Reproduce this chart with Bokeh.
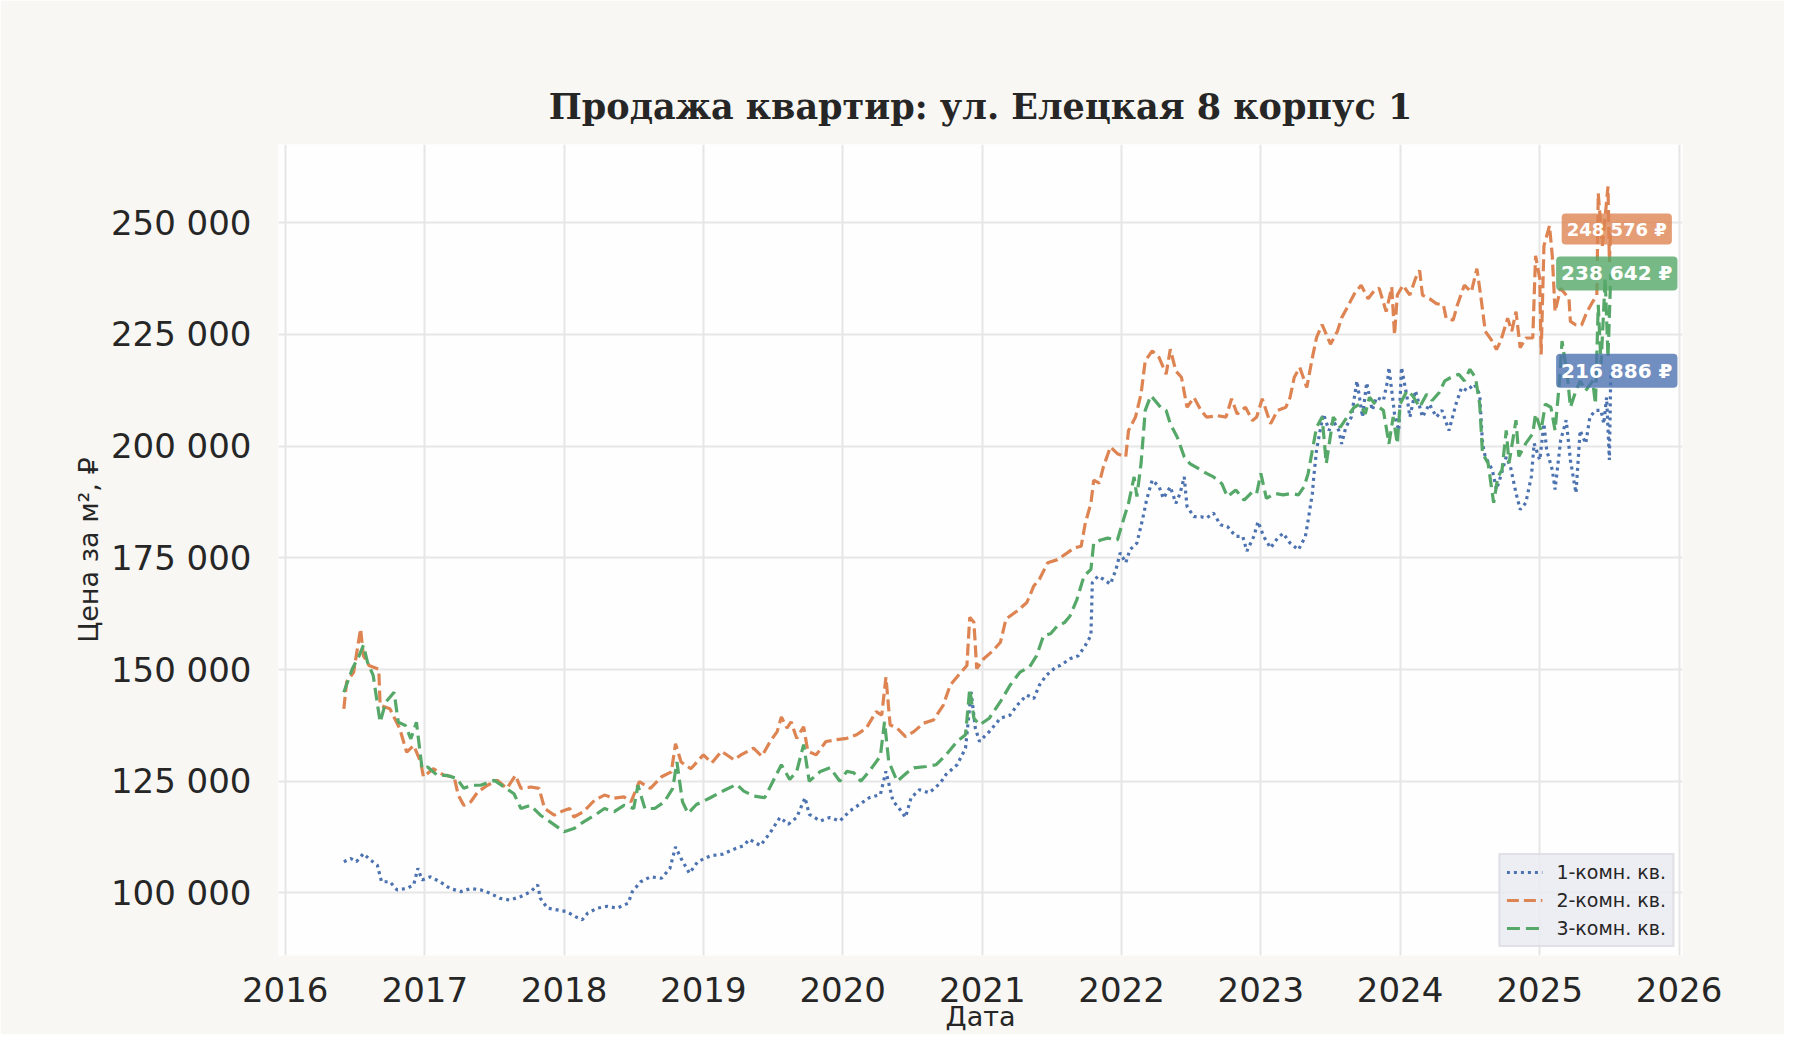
import numpy as np
import pandas as pd
from bokeh.plotting import figure
from bokeh.models import Range1d, FixedTicker, DatetimeTickFormatter, CustomJSTickFormatter, Label
from bokeh.embed import file_html
from bokeh.resources import INLINE

# fractional years and price per m2 (thousand rub)
years_1k = [2016.42, 2016.47, 2016.51, 2016.56, 2016.61, 2016.66, 2016.69, 2016.75, 2016.80, 2016.87,
            2016.92, 2016.95, 2016.98, 2017.04, 2017.11, 2017.18, 2017.26, 2017.33, 2017.40, 2017.47,
            2017.54, 2017.61, 2017.69, 2017.76, 2017.81, 2017.83, 2017.88, 2017.95, 2018.02, 2018.08,
            2018.13, 2018.17, 2018.24, 2018.31, 2018.38, 2018.46, 2018.49, 2018.55, 2018.62, 2018.70,
            2018.76, 2018.80, 2018.84, 2018.90, 2018.96, 2019.05, 2019.14, 2019.22, 2019.29, 2019.33,
            2019.41, 2019.48, 2019.55, 2019.61, 2019.67, 2019.73, 2019.76, 2019.84, 2019.91, 2019.98,
            2020.05, 2020.12, 2020.19, 2020.27, 2020.31, 2020.36, 2020.41, 2020.45, 2020.49, 2020.55,
            2020.62, 2020.70, 2020.74, 2020.82, 2020.88, 2020.92, 2020.95, 2020.98, 2021.05, 2021.13,
            2021.20, 2021.25, 2021.32, 2021.37, 2021.41, 2021.46, 2021.53, 2021.56, 2021.63, 2021.69,
            2021.74, 2021.78, 2021.79, 2021.83, 2021.87, 2021.92, 2021.96, 2021.99, 2022.03, 2022.06,
            2022.11, 2022.15, 2022.18, 2022.22, 2022.27, 2022.30, 2022.35, 2022.39, 2022.42, 2022.45,
            2022.47, 2022.52, 2022.57, 2022.61, 2022.66, 2022.71, 2022.76, 2022.82, 2022.87, 2022.90,
            2022.95, 2022.98, 2023.02, 2023.07, 2023.12, 2023.16, 2023.21, 2023.27, 2023.32, 2023.34,
            2023.37, 2023.38, 2023.40, 2023.43, 2023.45, 2023.49, 2023.52, 2023.56, 2023.58, 2023.61,
            2023.65, 2023.69, 2023.73, 2023.76, 2023.80, 2023.83, 2023.88, 2023.91, 2023.92, 2023.96,
            2023.99, 2024.01, 2024.05, 2024.07, 2024.11, 2024.16, 2024.21, 2024.26, 2024.30, 2024.35,
            2024.40, 2024.44, 2024.48, 2024.53, 2024.57, 2024.59, 2024.61, 2024.66, 2024.69, 2024.72,
            2024.76, 2024.79, 2024.83, 2024.86, 2024.90, 2024.94, 2024.96, 2025.00, 2025.03, 2025.05,
            2025.09, 2025.11, 2025.15, 2025.19, 2025.22, 2025.26, 2025.29, 2025.33, 2025.36, 2025.40,
            2025.44, 2025.46, 2025.48, 2025.50, 2025.51]
price_1k = [107.0, 107.7, 107.0, 108.8, 107.4, 106.2, 102.5, 102.5, 100.7, 101.0,
            101.8, 105.5, 102.9, 103.6, 102.5, 101.0, 100.3, 101.0, 100.7, 99.9,
            98.8, 98.4, 99.2, 100.3, 101.8, 98.8, 96.6, 96.2, 95.8, 94.7,
            94.0, 95.5, 96.6, 97.0, 96.6, 97.7, 100.3, 102.5, 103.6, 103.3,
            105.5, 110.3, 107.7, 104.4, 107.0, 108.3, 108.7, 109.8, 110.6, 112.0,
            110.6, 113.5, 116.9, 115.4, 116.9, 121.3, 117.6, 116.1, 116.9, 116.1,
            118.3, 119.8, 121.3, 122.0, 127.2, 120.6, 118.7, 116.9, 121.3, 123.1,
            122.4, 124.6, 126.5, 128.7, 132.4, 145.0, 136.9, 133.9, 136.1, 139.1,
            139.8, 142.0, 144.3, 143.5, 146.5, 148.7, 150.6, 150.9, 152.4, 153.1,
            155.4, 157.6, 169.4, 170.9, 170.2, 169.1, 172.4, 176.1, 173.9, 176.8,
            178.3, 183.5, 188.0, 192.4, 190.9, 188.3, 190.9, 187.2, 189.4, 193.1,
            186.5, 184.2, 184.2, 183.9, 185.0, 182.4, 182.0, 179.8, 179.8, 176.5,
            179.8, 183.1, 179.8, 177.2, 179.4, 180.5, 178.3, 176.8, 179.8, 183.5,
            189.4, 193.1, 199.1, 204.2, 207.2, 203.5, 205.7, 203.5, 200.5, 204.2,
            206.5, 214.6, 206.5, 214.2, 208.0, 210.9, 210.2, 214.6, 217.6, 207.2,
            203.5, 217.6, 210.9, 206.5, 212.4, 206.5, 209.4, 206.5, 208.0, 203.5,
            209.4, 213.1, 212.4, 213.9, 211.6, 200.6, 197.6, 194.7, 190.3, 193.2,
            197.6, 195.4, 189.5, 185.8, 187.3, 193.2, 200.6, 196.9, 205.0, 199.1,
            194.7, 190.3, 201.3, 205.8, 196.9, 189.5, 203.5, 200.6, 206.5, 208.0,
            208.0, 205.0, 210.9, 196.9, 216.886]

years_2k = [2016.42, 2016.44, 2016.49, 2016.54, 2016.56, 2016.60, 2016.67, 2016.68, 2016.75, 2016.82,
            2016.87, 2016.92, 2016.97, 2016.99, 2017.06, 2017.14, 2017.21, 2017.24, 2017.28, 2017.33,
            2017.38, 2017.45, 2017.52, 2017.59, 2017.65, 2017.69, 2017.76, 2017.82, 2017.86, 2017.93,
            2017.98, 2018.04, 2018.07, 2018.14, 2018.22, 2018.29, 2018.36, 2018.43, 2018.48, 2018.54,
            2018.62, 2018.70, 2018.77, 2018.80, 2018.84, 2018.91, 2019.00, 2019.06, 2019.13, 2019.22,
            2019.27, 2019.36, 2019.42, 2019.48, 2019.53, 2019.56, 2019.60, 2019.63, 2019.67, 2019.72,
            2019.75, 2019.81, 2019.88, 2019.96, 2020.03, 2020.10, 2020.17, 2020.24, 2020.28, 2020.31,
            2020.34, 2020.39, 2020.45, 2020.51, 2020.58, 2020.65, 2020.72, 2020.77, 2020.84, 2020.89,
            2020.91, 2020.94, 2020.96, 2021.01, 2021.08, 2021.13, 2021.17, 2021.25, 2021.32, 2021.37,
            2021.41, 2021.47, 2021.54, 2021.61, 2021.66, 2021.71, 2021.74, 2021.78, 2021.80, 2021.84,
            2021.87, 2021.92, 2021.97, 2022.03, 2022.05, 2022.10, 2022.14, 2022.17, 2022.22, 2022.27,
            2022.32, 2022.35, 2022.39, 2022.43, 2022.47, 2022.52, 2022.57, 2022.61, 2022.69, 2022.75,
            2022.79, 2022.83, 2022.89, 2022.94, 2022.97, 2023.01, 2023.07, 2023.12, 2023.18, 2023.21,
            2023.24, 2023.28, 2023.33, 2023.37, 2023.40, 2023.44, 2023.50, 2023.55, 2023.58, 2023.62,
            2023.67, 2023.72, 2023.77, 2023.82, 2023.85, 2023.90, 2023.94, 2023.96, 2023.98, 2024.02,
            2024.07, 2024.11, 2024.14, 2024.16, 2024.21, 2024.26, 2024.31, 2024.33, 2024.38, 2024.41,
            2024.46, 2024.51, 2024.55, 2024.58, 2024.61, 2024.66, 2024.69, 2024.72, 2024.77, 2024.80,
            2024.83, 2024.86, 2024.90, 2024.95, 2024.97, 2025.00, 2025.01, 2025.03, 2025.07, 2025.09,
            2025.11, 2025.15, 2025.21, 2025.22, 2025.26, 2025.30, 2025.34, 2025.38, 2025.41, 2025.42,
            2025.45, 2025.49, 2025.50, 2025.51]
price_2k = [141.2, 147.2, 149.4, 159.1, 153.1, 150.9, 150.1, 142.0, 141.2, 136.8,
            131.5, 133.0, 129.3, 126.0, 127.8, 126.3, 126.0, 121.9, 119.6, 120.4,
            122.6, 124.1, 125.2, 123.4, 126.3, 123.4, 123.7, 123.4, 118.9, 117.4,
            118.2, 118.9, 117.0, 118.2, 120.8, 121.9, 121.2, 121.5, 120.4, 124.9,
            123.4, 126.0, 127.1, 133.4, 129.3, 127.8, 130.9, 129.1, 131.7, 129.8,
            130.9, 132.4, 130.6, 133.9, 136.1, 139.4, 136.9, 138.3, 134.6, 137.2,
            131.7, 130.9, 133.9, 134.3, 134.6, 135.4, 136.9, 140.6, 139.8, 148.3,
            137.6, 136.9, 135.0, 136.1, 138.0, 138.7, 142.0, 146.5, 149.1, 150.9,
            161.7, 160.6, 150.2, 152.4, 154.3, 156.1, 161.3, 163.1, 165.0, 168.7,
            170.2, 173.9, 174.6, 176.1, 177.2, 177.6, 182.8, 187.2, 192.4, 191.7,
            195.4, 199.8, 198.3, 197.6, 203.5, 206.5, 211.7, 219.1, 221.3, 219.8,
            216.1, 221.7, 216.8, 215.4, 208.7, 210.9, 208.0, 206.5, 206.8, 206.5,
            210.6, 207.2, 208.7, 205.7, 206.5, 210.6, 205.0, 208.0, 208.7, 210.9,
            215.4, 217.6, 213.1, 219.8, 224.3, 227.2, 222.8, 225.7, 228.7, 231.0,
            234.0, 236.0, 233.0, 235.0, 235.3, 230.1, 235.6, 224.9, 233.8, 236.0,
            233.8, 237.5, 239.3, 233.8, 233.0, 231.9, 231.6, 228.6, 228.2, 231.6,
            236.0, 234.5, 239.7, 233.0, 225.7, 223.5, 221.6, 223.5, 228.6, 225.7,
            230.1, 222.0, 224.2, 224.2, 242.6, 237.5, 220.5, 244.8, 249.3, 242.6,
            230.1, 235.3, 233.0, 227.9, 227.1, 227.1, 230.1, 232.3, 233.8, 256.6,
            244.8, 258.1, 241.2, 248.576]

years_3k = [2016.42, 2016.48, 2016.53, 2016.56, 2016.59, 2016.63, 2016.68, 2016.72, 2016.78, 2016.81,
            2016.86, 2016.90, 2016.94, 2016.98, 2017.02, 2017.09, 2017.16, 2017.23, 2017.28, 2017.33,
            2017.40, 2017.50, 2017.57, 2017.64, 2017.69, 2017.76, 2017.83, 2017.90, 2018.00, 2018.07,
            2018.14, 2018.22, 2018.29, 2018.36, 2018.43, 2018.50, 2018.53, 2018.58, 2018.65, 2018.72,
            2018.78, 2018.81, 2018.85, 2018.89, 2018.95, 2019.05, 2019.14, 2019.24, 2019.29, 2019.36,
            2019.44, 2019.50, 2019.56, 2019.62, 2019.67, 2019.72, 2019.76, 2019.84, 2019.91, 2019.98,
            2020.03, 2020.08, 2020.13, 2020.19, 2020.27, 2020.30, 2020.33, 2020.39, 2020.46, 2020.51,
            2020.60, 2020.67, 2020.74, 2020.82, 2020.88, 2020.91, 2020.94, 2020.98, 2021.05, 2021.13,
            2021.20, 2021.27, 2021.34, 2021.39, 2021.44, 2021.49, 2021.54, 2021.59, 2021.63, 2021.68,
            2021.73, 2021.78, 2021.80, 2021.85, 2021.90, 2021.97, 2022.02, 2022.05, 2022.09, 2022.11,
            2022.14, 2022.17, 2022.21, 2022.24, 2022.28, 2022.32, 2022.35, 2022.40, 2022.45, 2022.49,
            2022.55, 2022.61, 2022.66, 2022.72, 2022.76, 2022.82, 2022.88, 2022.94, 2022.97, 2023.00,
            2023.04, 2023.10, 2023.16, 2023.22, 2023.27, 2023.31, 2023.34, 2023.37, 2023.40, 2023.44,
            2023.47, 2023.52, 2023.57, 2023.62, 2023.67, 2023.71, 2023.75, 2023.78, 2023.83, 2023.88,
            2023.92, 2023.95, 2023.98, 2024.00, 2024.05, 2024.09, 2024.14, 2024.19, 2024.23, 2024.28,
            2024.32, 2024.36, 2024.42, 2024.46, 2024.50, 2024.54, 2024.57, 2024.59, 2024.63, 2024.65,
            2024.67, 2024.70, 2024.73, 2024.76, 2024.78, 2024.83, 2024.85, 2024.90, 2024.95, 2024.97,
            2025.01, 2025.04, 2025.08, 2025.11, 2025.14, 2025.16, 2025.20, 2025.22, 2025.26, 2025.29,
            2025.33, 2025.38, 2025.40, 2025.42, 2025.44, 2025.47, 2025.49, 2025.51]
price_3k = [144.9, 150.1, 153.1, 155.4, 151.6, 148.7, 138.2, 142.7, 144.9, 138.2,
            137.5, 134.5, 138.2, 127.8, 128.2, 126.3, 126.3, 125.6, 123.4, 124.1,
            124.1, 125.2, 123.7, 122.2, 118.9, 119.6, 117.4, 115.9, 113.7, 114.4,
            115.9, 117.4, 118.9, 118.2, 119.6, 118.9, 124.1, 118.9, 118.9, 120.4,
            123.4, 129.3, 120.4, 117.8, 119.8, 121.3, 122.8, 124.3, 122.8, 121.7,
            121.3, 125.0, 128.7, 125.4, 127.2, 133.2, 125.0, 127.2, 128.0, 125.0,
            127.2, 126.9, 125.0, 127.2, 130.6, 138.3, 129.4, 125.0, 126.9, 128.0,
            128.3, 128.7, 130.9, 133.9, 135.4, 145.7, 139.1, 137.6, 139.1, 142.8,
            146.5, 149.4, 150.6, 153.1, 157.6, 158.0, 159.8, 160.5, 162.0, 165.7,
            170.9, 172.4, 178.3, 179.0, 179.4, 179.0, 184.2, 187.2, 193.1, 188.7,
            196.1, 208.0, 211.3, 210.2, 208.7, 208.0, 205.0, 202.0, 197.6, 196.1,
            195.0, 193.9, 193.1, 191.6, 188.7, 190.2, 187.9, 189.8, 189.4, 193.9,
            188.3, 189.4, 189.1, 189.4, 189.1, 190.9, 193.9, 199.1, 204.2, 206.5,
            196.1, 206.5, 204.2, 206.5, 208.7, 209.4, 207.2, 210.9, 209.1, 208.0,
            200.5, 206.5, 200.5, 209.4, 212.4, 211.3, 208.7, 211.6, 210.2, 212.0,
            214.6, 215.3, 216.1, 214.6, 217.2, 215.3, 209.4, 198.4, 196.2, 191.7,
            187.3, 193.1, 194.7, 203.5, 196.2, 205.8, 197.7, 200.6, 202.8, 207.2,
            203.5, 209.4, 208.7, 203.5, 213.9, 223.5, 215.3, 208.7, 212.4, 214.6,
            212.4, 214.6, 209.4, 231.6, 218.3, 237.5, 219.8, 238.642]

series_names = ["1-комн. кв.", "2-комн. кв.", "3-комн. кв."]
colors = ["#4c72b0", "#dd8452", "#55a868"]
dashes = ["3 4", "12 5", "13 6"]
year_ticks = list(range(2016, 2027))
price_ticks = [100000, 125000, 150000, 175000, 200000, 225000, 250000]


def to_ms(years):
    # fractional year -> epoch milliseconds for the datetime axis
    out = []
    for y in years:
        y0 = int(y)
        start = pd.Timestamp(y0, 1, 1)
        end = pd.Timestamp(y0 + 1, 1, 1)
        out.append((start + (end - start) * (y - y0)).value / 1e6)
    return np.array(out)


def fmt_rub(v):
    return f"{v:,.0f}".replace(",", " ") + " ₽"


p = figure(width=1784, height=1034, x_axis_type="datetime", output_backend="svg", toolbar_location=None,
           min_border_left=278, min_border_right=102, min_border_top=144, min_border_bottom=70,
           background_fill_color="#fefefe", border_fill_color="#f8f7f3", outline_line_color=None)
p.x_range = Range1d(to_ms([2015.952])[0], to_ms([2026.025])[0])
p.y_range = Range1d(86000, 267500)

p.title.text = "Продажа квартир: ул. Елецкая 8 корпус 1"
p.title.align = "center"
p.title.text_font = "DejaVu Serif"
p.title.text_font_style = "bold"
p.title.text_font_size = "35px"
p.title.text_color = "#262626"
p.title.standoff = 36

all_years = [years_1k, years_2k, years_3k]
all_prices = [price_1k, price_2k, price_3k]
label_sizes = ["20px", "18px", "20px"]
for i in range(3):
    xs = to_ms(all_years[i])
    ys = np.array(all_prices[i]) * 1000
    p.line(xs, ys, color=colors[i], line_width=3.2, line_dash=dashes[i], legend_label=series_names[i])
    lab = Label(x=xs[-1], y=ys[-1], text=fmt_rub(ys[-1]), x_offset=6,
                text_align="center", text_baseline="middle",
                text_font="DejaVu Sans", text_font_style="bold", text_font_size=label_sizes[i],
                text_color="white", background_fill_color=colors[i], background_fill_alpha=0.8,
                padding=5, border_radius=4)
    p.add_layout(lab)

# axes
p.xaxis.ticker = FixedTicker(ticks=list(to_ms(year_ticks)))
p.xaxis.formatter = DatetimeTickFormatter(years="%Y", months="%Y", days="%Y", hours="%Y")
p.yaxis.ticker = FixedTicker(ticks=price_ticks)
p.yaxis.formatter = CustomJSTickFormatter(code="return String(Math.round(tick)).replace(/\\B(?=(\\d{3})+(?!\\d))/g, ' ')")
for ax in [p.xaxis, p.yaxis]:
    ax.axis_line_color = None
    ax.major_tick_line_color = None
    ax.minor_tick_line_color = None
    ax.major_label_text_font = "DejaVu Sans"
    ax.major_label_text_font_size = "34px"
    ax.major_label_text_color = "#262626"
    ax.axis_label_text_font = "DejaVu Sans"
    ax.axis_label_text_font_style = "normal"
    ax.axis_label_text_font_size = "27px"
    ax.axis_label_text_color = "#262626"
p.xaxis.axis_label = "Дата"
p.yaxis.axis_label = "Цена за м², ₽"
p.xaxis.major_label_standoff = 15
p.xaxis.axis_label_standoff = -4
p.yaxis.major_label_standoff = 21
p.yaxis.axis_label_standoff = 4

p.xgrid.grid_line_color = "#e6e6e6"
p.ygrid.grid_line_color = "#e6e6e6"
p.xgrid.grid_line_width = 2
p.ygrid.grid_line_width = 2

# legend
p.legend.location = "bottom_right"
p.legend.background_fill_color = "#eaeaf2"
p.legend.background_fill_alpha = 0.85
p.legend.border_line_color = "#d4d4d8"
p.legend.border_line_width = 2
p.legend.label_text_font = "DejaVu Sans"
p.legend.label_text_font_size = "19px"
p.legend.label_text_color = "#262626"
p.legend.glyph_width = 36
p.legend.glyph_height = 22
p.legend.label_standoff = 14
p.legend.spacing = 6
p.legend.padding = 6
p.legend.margin = 8

open("out.html", "w").write(file_html(p, INLINE))
